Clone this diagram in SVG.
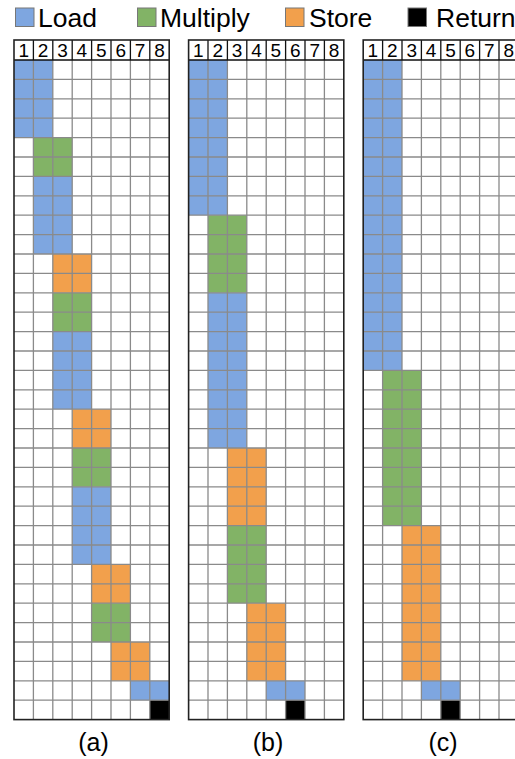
<svg xmlns="http://www.w3.org/2000/svg" xmlns:xlink="http://www.w3.org/1999/xlink" width="515" height="759" viewBox="0 0 515 759">
<style>
text{font-family:"Liberation Sans",Arial,Helvetica,sans-serif;fill:#000}
.lg{font-size:26.5px}
.hd{font-size:19px;text-anchor:middle}
.cap{font-size:25px;text-anchor:middle}
.L{fill:#7EA6E0}
.M{fill:#82B366}
.S{fill:#F2A04C}
.R{fill:#000}
.sw{stroke:#777;stroke-width:1}
.gl{fill:none;stroke:#8a8a8a;stroke-width:1.3}
.hl{fill:none;stroke:#111;stroke-width:1.3}
.bd{fill:none;stroke:#222;stroke-width:1.6}
</style>
<defs>
<g id="grid">
<path class="gl" d="M0 19.4H155.2M0 38.8H155.2M0 58.2H155.2M0 77.6H155.2M0 97H155.2M0 116.4H155.2M0 135.8H155.2M0 155.2H155.2M0 174.6H155.2M0 194H155.2M0 213.4H155.2M0 232.8H155.2M0 252.2H155.2M0 271.6H155.2M0 291H155.2M0 310.4H155.2M0 329.8H155.2M0 349.2H155.2M0 368.6H155.2M0 388H155.2M0 407.4H155.2M0 426.8H155.2M0 446.2H155.2M0 465.6H155.2M0 485H155.2M0 504.4H155.2M0 523.8H155.2M0 543.2H155.2M0 562.6H155.2M0 582H155.2M0 601.4H155.2M0 620.8H155.2M0 640.2H155.2M19.4 0V659.6M38.8 0V659.6M58.2 0V659.6M77.6 0V659.6M97 0V659.6M116.4 0V659.6M135.8 0V659.6"/>
<path class="hl" d="M0 0H155.2M19.4 -20V0M38.8 -20V0M58.2 -20V0M77.6 -20V0M97 -20V0M116.4 -20V0M135.8 -20V0"/>
<rect class="bd" x="0" y="-20" width="155.2" height="679.6"/>
<text class="hd" x="9.7" y="-3.5">1</text>
<text class="hd" x="29.1" y="-3.5">2</text>
<text class="hd" x="48.5" y="-3.5">3</text>
<text class="hd" x="67.9" y="-3.5">4</text>
<text class="hd" x="87.3" y="-3.5">5</text>
<text class="hd" x="106.7" y="-3.5">6</text>
<text class="hd" x="126.1" y="-3.5">7</text>
<text class="hd" x="145.5" y="-3.5">8</text>
</g>
</defs>

<g id="legend">
<rect class="L sw" x="15.5" y="8" width="18.5" height="18.5"/>
<text class="lg" x="38" y="27">Load</text>
<rect class="M sw" x="137.5" y="8" width="18.5" height="18.5"/>
<text class="lg" x="160" y="27">Multiply</text>
<rect class="S sw" x="285.5" y="8" width="18.5" height="18.5"/>
<text class="lg" x="309" y="27">Store</text>
<rect class="R sw" x="408" y="8" width="18.5" height="18.5"/>
<text class="lg" x="436" y="27">Return</text>
</g>

<g id="grid-a" transform="translate(14,60)">
<rect class="L" x="0" y="0" width="38.8" height="77.6"/>
<rect class="M" x="19.4" y="77.6" width="38.8" height="38.8"/>
<rect class="L" x="19.4" y="116.4" width="38.8" height="77.6"/>
<rect class="S" x="38.8" y="194" width="38.8" height="38.8"/>
<rect class="M" x="38.8" y="232.8" width="38.8" height="38.8"/>
<rect class="L" x="38.8" y="271.6" width="38.8" height="77.6"/>
<rect class="S" x="58.2" y="349.2" width="38.8" height="38.8"/>
<rect class="M" x="58.2" y="388" width="38.8" height="38.8"/>
<rect class="L" x="58.2" y="426.8" width="38.8" height="77.6"/>
<rect class="S" x="77.6" y="504.4" width="38.8" height="38.8"/>
<rect class="M" x="77.6" y="543.2" width="38.8" height="38.8"/>
<rect class="S" x="97" y="582" width="38.8" height="38.8"/>
<rect class="L" x="116.4" y="620.8" width="38.8" height="19.4"/>
<rect class="R" x="135.8" y="640.2" width="19.4" height="19.4"/>
<use xlink:href="#grid" href="#grid"/>
</g>

<g id="grid-b" transform="translate(188.6,60)">
<rect class="L" x="0" y="0" width="38.8" height="155.2"/>
<rect class="M" x="19.4" y="155.2" width="38.8" height="77.6"/>
<rect class="L" x="19.4" y="232.8" width="38.8" height="155.2"/>
<rect class="S" x="38.8" y="388" width="38.8" height="77.6"/>
<rect class="M" x="38.8" y="465.6" width="38.8" height="77.6"/>
<rect class="S" x="58.2" y="543.2" width="38.8" height="77.6"/>
<rect class="L" x="77.6" y="620.8" width="38.8" height="19.4"/>
<rect class="R" x="97" y="640.2" width="19.4" height="19.4"/>
<use xlink:href="#grid" href="#grid"/>
</g>

<g id="grid-c" transform="translate(363.2,60)">
<rect class="L" x="0" y="0" width="38.8" height="310.4"/>
<rect class="M" x="19.4" y="310.4" width="38.8" height="155.2"/>
<rect class="S" x="38.8" y="465.6" width="38.8" height="155.2"/>
<rect class="L" x="58.2" y="620.8" width="38.8" height="19.4"/>
<rect class="R" x="77.6" y="640.2" width="19.4" height="19.4"/>
<use xlink:href="#grid" href="#grid"/>
</g>

<g id="captions">
<text class="cap" x="93.5" y="751">(a)</text>
<text class="cap" x="268" y="751">(b)</text>
<text class="cap" x="443" y="751">(c)</text>
</g>
<g id="connectors"/>
</svg>
